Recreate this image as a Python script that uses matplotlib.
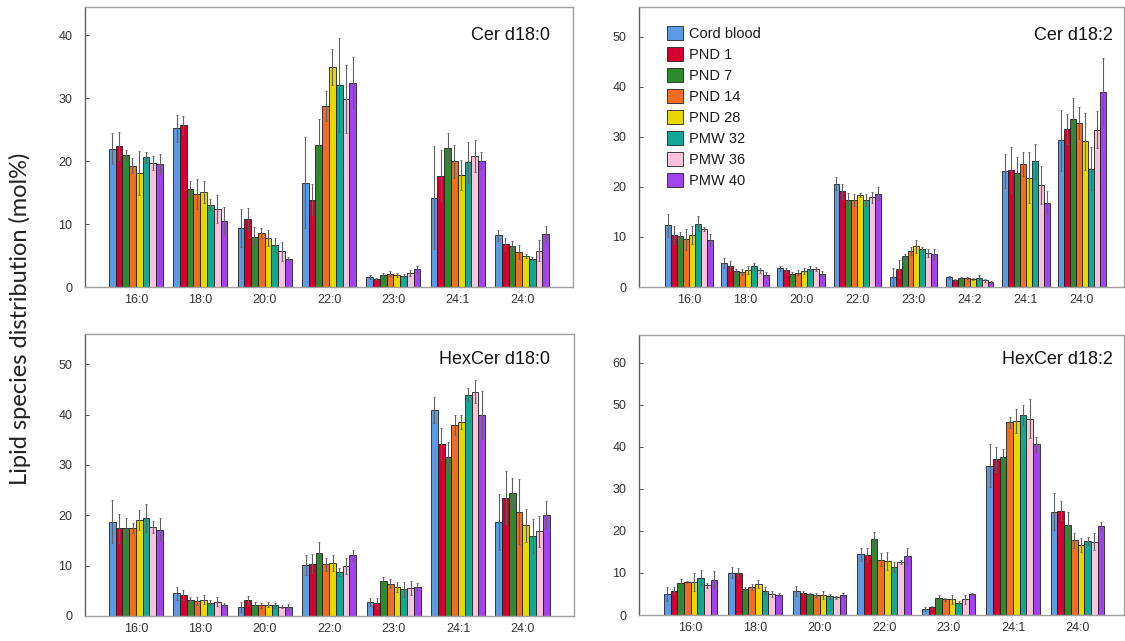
import numpy as np
import matplotlib
matplotlib.use("Agg")
import matplotlib.pyplot as plt

series = ["Cord blood", "PND 1", "PND 7", "PND 14", "PND 28", "PMW 32", "PMW 36", "PMW 40"]
colors = ["#5a9be2", "#d4002f", "#2f8a2f", "#f26d21", "#e6d800", "#12a896", "#f9c3dc", "#a243f0"]

# ---- Cer d18:0 (rows = chain groups, cols = series)
cer180_groups = ["16:0", "18:0", "20:0", "22:0", "23:0", "24:1", "24:0"]
cer180_vals = [
    [22.0, 22.4, 20.9, 19.3, 18.1, 20.6, 19.7, 19.6],
    [25.2, 25.7, 15.6, 14.8, 15.1, 13.1, 12.4, 10.5],
    [9.4, 10.8, 8.0, 8.6, 7.8, 6.7, 5.7, 4.4],
    [16.6, 13.9, 22.6, 28.8, 35.0, 32.1, 29.9, 32.5],
    [1.6, 1.3, 1.9, 2.1, 1.9, 1.8, 2.2, 2.8],
    [14.2, 17.7, 22.1, 20.0, 17.8, 19.8, 20.8, 20.1],
    [8.2, 6.8, 6.5, 5.5, 4.9, 4.5, 5.8, 8.4],
]
cer180_errs = [
    [2.5, 2.2, 0.9, 1.2, 3.5, 0.9, 1.1, 1.6],
    [2.1, 1.5, 1.3, 2.4, 1.7, 0.9, 2.3, 2.2],
    [3.0, 1.8, 1.5, 0.8, 1.3, 1.1, 1.5, 0.3],
    [7.3, 2.5, 4.1, 2.4, 2.9, 7.5, 5.4, 4.1],
    [0.3, 0.2, 0.3, 0.4, 0.3, 0.3, 0.5, 0.6],
    [8.2, 4.1, 2.4, 2.6, 2.4, 3.2, 2.6, 1.3],
    [0.9, 1.0, 0.8, 1.1, 0.3, 0.2, 1.7, 1.3],
]

# ---- Cer d18:2
cer182_groups = ["16:0", "18:0", "20:0", "22:0", "23:0", "24:2", "24:1", "24:0"]
cer182_vals = [
    [12.3, 10.4, 10.1, 9.5, 10.4, 12.6, 11.6, 9.4],
    [4.85, 4.25, 3.1, 3.0, 3.3, 4.1, 3.3, 2.4],
    [3.7, 3.3, 2.5, 2.8, 3.2, 3.6, 3.5, 2.5],
    [20.6, 19.1, 17.4, 17.4, 18.3, 17.4, 17.9, 18.6],
    [1.9, 3.5, 6.1, 7.2, 8.1, 7.6, 6.8, 6.5],
    [1.9, 1.3, 1.7, 1.7, 1.6, 1.8, 1.3, 1.0],
    [23.1, 23.3, 22.7, 24.5, 21.8, 25.1, 20.3, 16.8],
    [29.3, 31.6, 33.6, 32.8, 29.1, 23.6, 31.4, 38.9],
]
cer182_errs = [
    [2.3, 1.8, 0.9, 2.1, 1.8, 1.5, 0.4, 1.2],
    [1.0, 1.0, 0.5, 0.6, 0.8, 0.7, 0.5, 0.5],
    [0.5, 0.4, 0.4, 0.5, 0.6, 0.5, 0.4, 0.6],
    [1.3, 1.5, 1.3, 1.2, 0.4, 1.2, 1.1, 1.3],
    [1.8, 1.8, 0.5, 0.8, 1.3, 0.4, 0.8, 1.1],
    [0.3, 0.2, 0.2, 0.2, 0.2, 0.5, 0.3, 0.2],
    [3.4, 4.6, 3.2, 2.4, 5.1, 3.5, 3.8, 2.3],
    [6.1, 3.0, 4.2, 3.2, 5.7, 4.3, 3.7, 6.8],
]

# ---- HexCer d18:0
hex180_groups = ["16:0", "18:0", "20:0", "22:0", "23:0", "24:1", "24:0"]
hex180_vals = [
    [18.7, 17.4, 17.4, 17.4, 19.1, 19.5, 17.7, 17.1],
    [4.5, 4.1, 3.2, 3.0, 3.2, 2.65, 2.8, 2.2],
    [1.85, 3.1, 2.2, 2.1, 2.2, 2.1, 1.8, 1.8],
    [10.1, 10.4, 12.6, 10.3, 10.5, 8.8, 9.9, 12.1],
    [2.8, 2.65, 7.0, 6.4, 5.8, 5.3, 5.6, 5.8],
    [40.9, 34.2, 31.5, 37.9, 38.5, 43.9, 44.5, 39.9],
    [18.7, 23.5, 24.4, 20.7, 18.0, 15.9, 16.8, 20.1],
]
hex180_errs = [
    [4.3, 2.9, 2.0, 1.0, 2.0, 2.8, 1.2, 2.3],
    [1.3, 1.0, 0.6, 0.8, 0.9, 0.5, 0.9, 0.4],
    [1.0, 0.8, 0.5, 0.5, 0.5, 0.5, 0.3, 0.6],
    [2.0, 1.9, 2.0, 1.3, 1.6, 0.8, 1.6, 1.1],
    [0.8, 1.0, 0.7, 0.9, 1.0, 1.5, 1.4, 0.7],
    [2.6, 3.2, 3.1, 2.0, 1.4, 1.3, 2.3, 4.7],
    [5.6, 5.3, 3.1, 6.5, 3.3, 3.4, 3.1, 2.7],
]

# ---- HexCer d18:2
hex182_groups = ["16:0", "18:0", "20:0", "22:0", "23:0", "24:1", "24:0"]
hex182_vals = [
    [5.0, 5.8, 7.5, 7.8, 7.8, 8.9, 7.1, 8.3],
    [10.1, 9.9, 6.1, 6.7, 7.4, 5.8, 4.9, 4.75],
    [5.8, 5.3, 4.9, 4.75, 4.7, 4.5, 4.2, 4.75],
    [14.4, 14.3, 18.0, 13.2, 12.8, 11.5, 12.7, 14.1],
    [1.5, 1.8, 4.1, 3.7, 3.7, 2.9, 3.7, 5.0],
    [35.5, 37.0, 37.5, 45.8, 46.1, 47.5, 46.7, 40.6],
    [24.6, 24.8, 21.5, 17.8, 16.6, 17.6, 17.4, 21.2],
]
hex182_errs = [
    [1.7, 0.9, 1.0, 0.3, 2.1, 1.8, 0.6, 2.2],
    [1.2, 1.2, 0.5, 0.7, 0.9, 0.8, 0.7, 0.5],
    [1.2, 0.5, 0.4, 0.5, 1.0, 0.6, 0.4, 0.5],
    [1.6, 1.7, 1.8, 1.5, 2.1, 1.2, 0.5, 1.9],
    [0.5, 0.3, 0.7, 0.4, 1.0, 0.5, 1.0, 0.3],
    [5.1, 3.0, 1.9, 1.3, 2.8, 2.4, 4.6, 1.8],
    [4.3, 2.3, 3.1, 1.8, 1.6, 1.0, 2.0, 1.0],
]

W, H = 1125, 641
fig = plt.figure(figsize=(W / 100, H / 100), dpi=100)
plt.rcParams['font.family'] = ['Liberation Sans', 'DejaVu Sans']

panels = [
    # title, groups, vals, errs, rect(px: left, top, right, bottom), xlim, ymax, yticks, title pos, group width
    ("Cer d18:0", cer180_groups, cer180_vals, cer180_errs, (85, 7, 573, 287), (-0.79, 6.79), 44.5, range(0, 41, 10), (0.953, 0.90), 0.84),
    ("Cer d18:2", cer182_groups, cer182_vals, cer182_errs, (639, 7, 1124, 287), (-0.89, 7.75), 55.9, range(0, 51, 10), (0.977, 0.90), 0.85),
    ("HexCer d18:0", hex180_groups, hex180_vals, hex180_errs, (85, 334, 574, 616), (-0.79, 6.80), 56.0, range(0, 51, 10), (0.951, 0.911), 0.84),
    ("HexCer d18:2", hex182_groups, hex182_vals, hex182_errs, (639, 335, 1124, 615), (-0.80, 6.72), 66.6, range(0, 61, 10), (0.977, 0.911), 0.83),
]

axes = []
for title, groups, vals, errs, (l, t, r, b), xlim, ymax, yticks, tpos, gw in panels:
    ax = fig.add_axes([l / W, 1 - b / H, (r - l) / W, (b - t) / H])
    axes.append(ax)
    v = np.array(vals).T
    e = np.array(errs).T
    x = np.arange(len(groups))
    n = len(series)
    bw = gw / n
    for i in range(n):
        pos = x - gw / 2 + bw * (i + 0.5)
        ax.bar(pos, v[i], width=bw, color=colors[i], edgecolor="#202020",
               linewidth=0.6, label=series[i], zorder=2)
        ax.errorbar(pos, v[i], yerr=e[i], fmt="none", ecolor="#606060",
                    elinewidth=0.8, capsize=1.0, capthick=0.6, zorder=3)
    ax.set_xlim(*xlim)
    ax.set_ylim(0, ymax)
    ax.set_yticks(list(yticks))
    ax.set_xticks(x)
    ax.set_xticklabels(groups)
    ax.tick_params(axis="x", length=0, labelsize=9, pad=5, colors="#333333")
    ax.tick_params(axis="y", direction="in", length=3, labelsize=9, pad=9,
                   colors="#333333", width=0.6)
    for s in ["top", "right", "bottom"]:
        ax.spines[s].set_color("#a0a0a0")
        ax.spines[s].set_linewidth(1.0)
    ax.spines["left"].set_color("#606060")
    ax.spines["left"].set_linewidth(1.0)
    ax.text(tpos[0], tpos[1], title, transform=ax.transAxes, ha="right",
            va="center", fontsize=13, color="#111111")

leg = axes[1].legend(loc="upper left", bbox_to_anchor=(0.04, 0.965), frameon=False,
                     fontsize=10.5, handlelength=1.1, handleheight=1.1,
                     handletextpad=0.4, labelspacing=0.42, borderaxespad=0.2)
for txt in leg.get_texts():
    txt.set_color("#1a1a1a")

fig.text(0.018, 0.503, "Lipid species distribution (mol%)", rotation=90,
         ha="center", va="center", fontsize=17, family=["Lato", "DejaVu Sans"],
         color="#222222")

fig.savefig("out.png", dpi=100)
